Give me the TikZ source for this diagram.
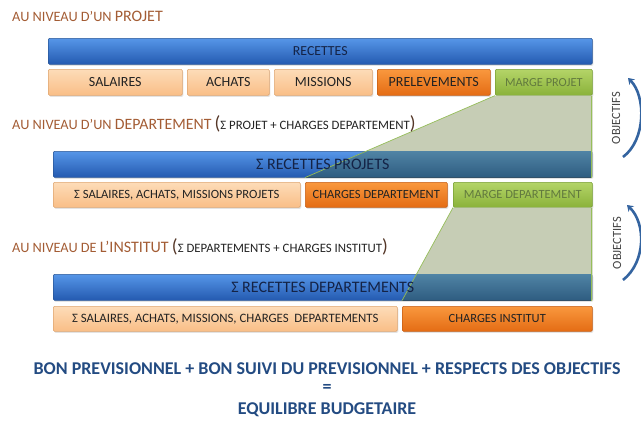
\documentclass[tikz,border=0pt]{standalone}
\usepackage{fontspec}
\setmainfont{Carlito}
\usetikzlibrary{shadows,arrows.meta,calc}
\definecolor{barTop}{RGB}{86,150,232}
\definecolor{barBot}{RGB}{36,90,176}
\definecolor{barEdge}{RGB}{40,85,150}
\definecolor{steelTop}{RGB}{80,132,165}
\definecolor{steelBot}{RGB}{46,92,128}
\definecolor{peachTop}{RGB}{253,220,184}
\definecolor{peachBot}{RGB}{249,190,135}
\definecolor{peachEdge}{RGB}{222,165,112}
\definecolor{orTop}{RGB}{249,152,62}
\definecolor{orBot}{RGB}{228,108,20}
\definecolor{orEdge}{RGB}{196,92,20}
\definecolor{grTop}{RGB}{180,212,104}
\definecolor{grBot}{RGB}{138,178,58}
\definecolor{grEdge}{RGB}{118,158,50}
\definecolor{grText}{RGB}{98,122,62}
\definecolor{trapFill}{RGB}{198,205,181}
\definecolor{trapLine}{RGB}{150,190,90}
\definecolor{titleBrown}{RGB}{163,92,52}
\definecolor{parenBrown}{RGB}{85,55,40}
\definecolor{darkText}{RGB}{35,35,35}
\definecolor{navyText}{RGB}{20,35,70}
\definecolor{arcBlue}{RGB}{52,100,160}
\definecolor{bottomBlue}{RGB}{35,75,130}
\newcommand\fsz[1]{\fontsize{#1}{#1}\selectfont}
\tikzset{
  cell/.style={anchor=north west, inner sep=0pt, rounded corners=1.2pt, line width=0.6pt,
    drop shadow={shadow xshift=1pt, shadow yshift=-1.5pt, opacity=0.22}},
  barbox/.style={cell, top color=barTop, bottom color=barBot, draw=barEdge, text=navyText},
  peachbox/.style={cell, top color=peachTop, bottom color=peachBot, draw=peachEdge, text=darkText},
  orbox/.style={cell, top color=orTop, bottom color=orBot, draw=orEdge, text=darkText},
  grbox/.style={cell, top color=grTop, bottom color=grBot, draw=grEdge, text=grText},
  bartext/.style={inner sep=0pt, text=navyText, font=\fsz{16}},
  trapedge/.style={draw=trapLine, line width=0.7pt},
  title/.style={anchor=base west, inner sep=0pt, text=titleBrown},
  objtext/.style={inner sep=0pt, rotate=90, text=darkText!85, font=\fsz{12.5}},
  objarrow/.style={draw=arcBlue, line width=2.6pt, -{Stealth[length=6pt,width=8pt]}},
  bottomtxt/.style={inner sep=0pt, text=bottomBlue, font=\bfseries\fsz{18}}
}
\begin{document}
\begin{tikzpicture}[x=1pt,y=-1pt]
\useasboundingbox (0,0) rectangle (641,423);

% level 1
\node[barbox, minimum width=544pt, minimum height=26pt, font=\fsz{13.8}] (r1) at (48,38) {RECETTES};
\node[peachbox, minimum width=134pt, minimum height=26pt, font=\fsz{14}] (sal1) at (48,69) {SALAIRES};
\node[peachbox, minimum width=82pt, minimum height=26pt, font=\fsz{14}] (ach1) at (187,69) {ACHATS};
\node[peachbox, minimum width=98pt, minimum height=26pt, font=\fsz{14}] (mis1) at (274,69) {MISSIONS};
\node[orbox, minimum width=113pt, minimum height=26pt, font=\fsz{14}] (pre1) at (377,69) {PRELEVEMENTS};
\node[grbox, minimum width=97pt, minimum height=26pt, font=\fsz{12.3}] (mar1) at (495,69) {MARGE PROJET};

% level 2
\node[barbox, minimum width=539pt, minimum height=26pt] (r2) at (53,151) {};
\node[peachbox, minimum width=247pt, minimum height=25pt, font=\fsz{12.6}] (sal2) at (53,182) {Σ SALAIRES, ACHATS, MISSIONS PROJETS};
\node[orbox, minimum width=142pt, minimum height=25pt, font=\fsz{12.5}] (ch2) at (305,182) {CHARGES DEPARTEMENT};
\node[grbox, minimum width=139pt, minimum height=25pt, font=\fsz{12.5}] (mar2) at (453,182) {MARGE DEPARTEMENT};

% level 3
\node[barbox, minimum width=539pt, minimum height=26pt] (r3) at (53,274) {};
\node[peachbox, minimum width=344pt, minimum height=25pt, font=\fsz{12.8}] (sal3) at (53,306) {Σ SALAIRES, ACHATS, MISSIONS, CHARGES~~DEPARTEMENTS};
\node[orbox, minimum width=190pt, minimum height=25pt, font=\fsz{12.5}] (ch3) at (402,306) {CHARGES INSTITUT};

% trapezoid 1
\fill[trapFill] (mar1.south west) -- (mar1.south east) -- (r2.south east) -- (ch2.west |- r2.south) -- cycle;
\begin{scope}
  \clip (mar1.south west) -- (mar1.south east) -- (r2.south east) -- (ch2.west |- r2.south) -- cycle;
  \fill[top color=steelTop, bottom color=steelBot] (r2.north west) rectangle (r2.south east);
\end{scope}
\draw[trapedge] (mar1.south west) -- (ch2.west |- r2.south);
\draw[trapedge] ([xshift=-1pt]mar1.south east) -- ([xshift=-1pt]r2.south east);
\node[bartext] (r2t) at (r2.center) {Σ RECETTES PROJETS};

% trapezoid 2
\fill[trapFill] (mar2.south west) -- (mar2.south east) -- (r3.south east) -- (ch3.west |- r3.south) -- cycle;
\begin{scope}
  \clip (mar2.south west) -- (mar2.south east) -- (r3.south east) -- (ch3.west |- r3.south) -- cycle;
  \fill[top color=steelTop, bottom color=steelBot] (r3.north west) rectangle (r3.south east);
\end{scope}
\draw[trapedge] (mar2.south west) -- (ch3.west |- r3.south);
\draw[trapedge] ([xshift=-1pt]mar2.south east) -- ([xshift=-1pt]r3.south east);
\node[bartext] (r3t) at (r3.center) {Σ RECETTES DEPARTEMENTS};

% titles
\node[title] (t1) at (12,21) {\fsz{14.3}AU NIVEAU D’UN {\fsz{16}PROJET}};
\node[title] (t2) at (12,129) {\fsz{14.3}AU NIVEAU D’UN {\fsz{15.8}DEPARTEMENT} {\color{parenBrown}\fsz{19}(\color{darkText}\fsz{12.8}Σ PROJET + CHARGES DEPARTEMENT\color{parenBrown}\fsz{19})}};
\node[title] (t3) at (12,252) {\fsz{14.3}AU NIVEAU DE {\fsz{16}L’INSTITUT} {\color{parenBrown}\fsz{19}(\color{darkText}\fsz{12.8}Σ DEPARTEMENTS + CHARGES INSTITUT\color{parenBrown}\fsz{19})}};

% objectifs
\node[objtext] (obj1) at (616,118) {OBJECTIFS};
\coordinate (o1b) at (623,157);
\coordinate (o1t) at (628,78);
\draw[objarrow] (o1b) .. controls (646,140) and (646,96) .. (o1t);
\node[objtext] (obj2) at (617,243) {OBJECTIFS};
\coordinate (o2b) at (623,280);
\coordinate (o2t) at (627,205);
\draw[objarrow] (o2b) .. controls (646,262) and (646,223) .. (o2t);

% bottom statement
\node[bottomtxt] (b1) at (327,369) {BON PREVISIONNEL + BON SUIVI DU PREVISIONNEL + RESPECTS DES OBJECTIFS};
\node[bottomtxt] (b2) at (327,388) {=};
\node[bottomtxt] (b3) at (327,410) {EQUILIBRE BUDGETAIRE};
\end{tikzpicture}
\end{document}
